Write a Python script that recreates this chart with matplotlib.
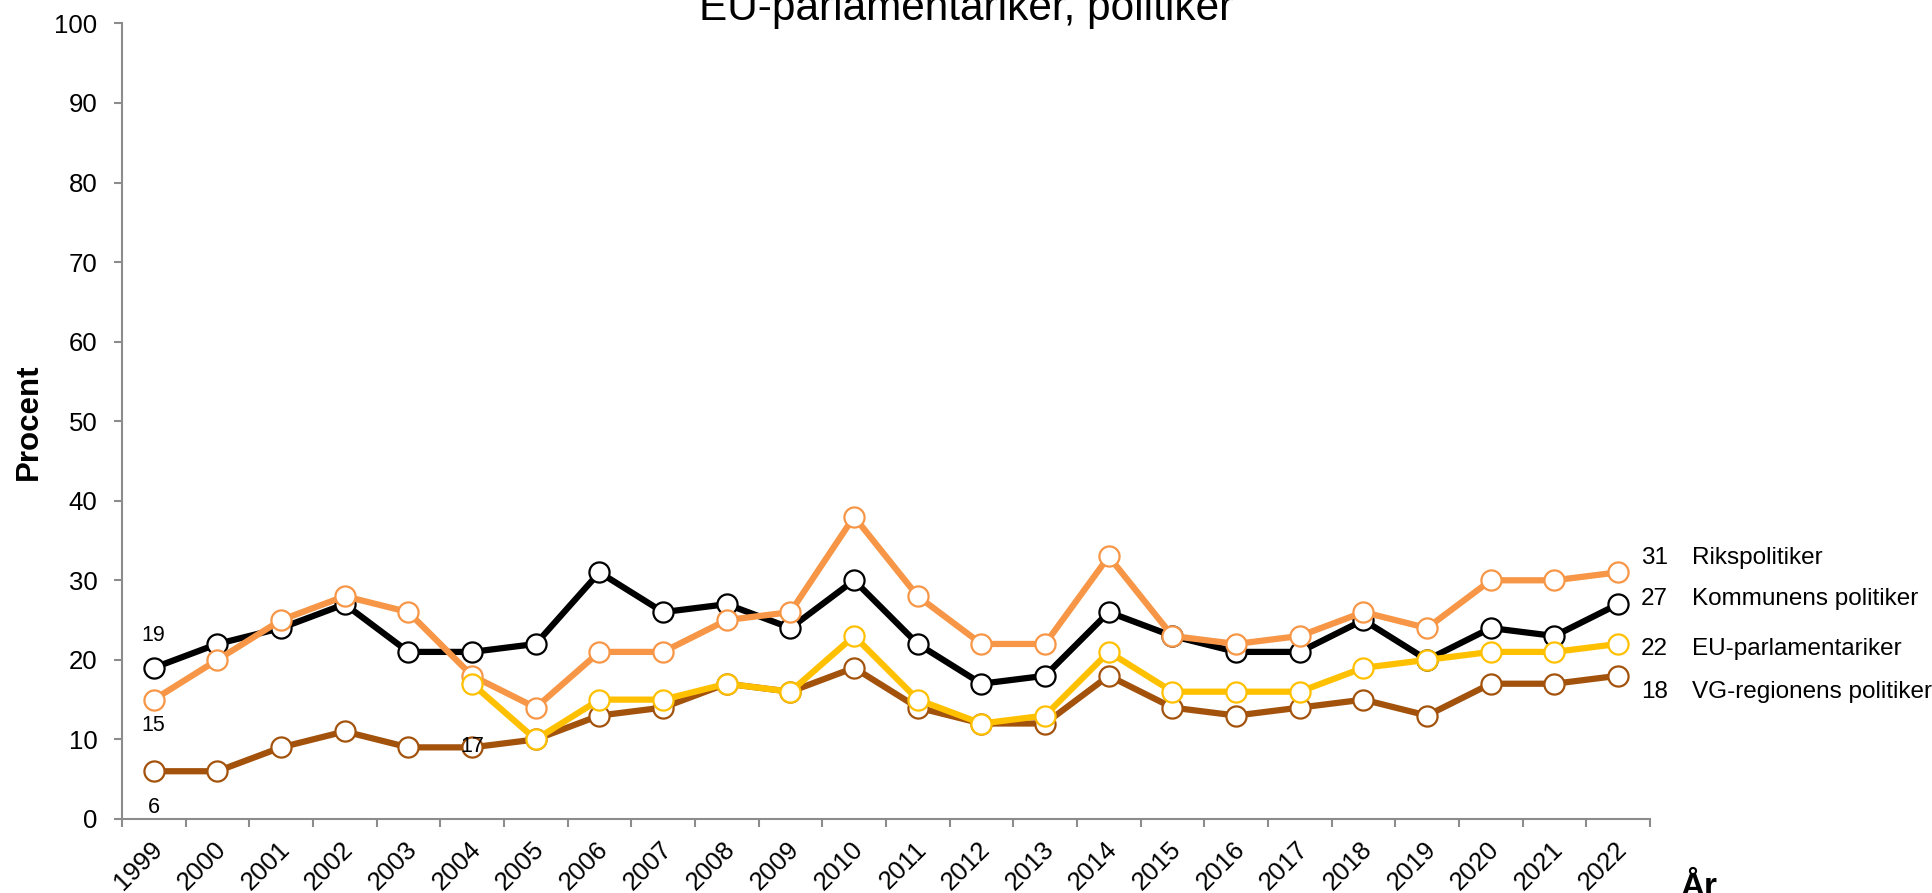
import matplotlib
matplotlib.use("Agg")
import matplotlib.pyplot as plt
import matplotlib.transforms as mtransforms
import numpy as np

plt.rcParams['font.family'] = ['Liberation Sans', 'DejaVu Sans']

years = list(range(1999, 2023))
kommunens = [19, 22, 24, 27, 21, 21, 22, 31, 26, 27, 24, 30, 22, 17, 18, 26, 23, 21, 21, 25, 20, 24, 23, 27]
riks = [15, 20, 25, 28, 26, 18, 14, 21, 21, 25, 26, 38, 28, 22, 22, 33, 23, 22, 23, 26, 24, 30, 30, 31]
eu_years = list(range(2004, 2023))
eu = [17, 10, 15, 15, 17, 16, 23, 15, 12, 13, 21, 16, 16, 16, 19, 20, 21, 21, 22]
vg = [6, 6, 9, 11, 9, 9, 10, 13, 14, 17, 16, 19, 14, 12, 12, 18, 14, 13, 14, 15, 13, 17, 17, 18]

series_names = ["Rikspolitiker", "Kommunens politiker", "EU-parlamentariker", "VG-regionens politiker"]
series_last = [31, 27, 22, 18]
label_y = [32.8, 27.6, 21.4, 15.9]

c_black = "#000000"
c_orange = "#F79646"
c_yellow = "#FFC000"
c_brown = "#A3520C"

fig = plt.figure(figsize=(19.32, 8.93), dpi=100)
ax = fig.add_axes([0.0631, 0.0829, 0.854 - 0.0631, 0.9738 - 0.0829])

x_all = np.arange(len(years))
x_eu = np.array([years.index(y) for y in eu_years])

lw = 4.5
ms = 14.5
mew = 1.6

def plot(x, y, c, z):
    ax.plot(x, y, color=c, lw=lw, marker='o', ms=ms, mfc='white', mec=c, mew=mew, zorder=z, clip_on=False)

plot(x_all, vg, c_brown, 2)
plot(x_all, kommunens, c_black, 3)
plot(x_all, riks, c_orange, 4)
plot(x_eu, eu, c_yellow, 5)

ax.set_xlim(-0.5, len(years) - 0.5)
ax.set_ylim(0, 100)
ax.set_yticks(np.arange(0, 101, 10))

ax.set_xticks(np.arange(-0.5, len(years), 1.0))
ax.set_xticklabels([])
ax.set_xticks(x_all, minor=True)
ax.set_xticklabels([str(y) for y in years], minor=True, rotation=45, ha='right', va='center',
                   rotation_mode='anchor', fontsize=18.5)
ax.tick_params(axis='x', which='minor', length=0, pad=19)
ax.tick_params(axis='x', which='major', length=6, width=1.5, color='#8C8C8C', direction='out')
ax.tick_params(axis='y', length=6, width=1.5, color='#8C8C8C', direction='out', labelsize=18.5, pad=11.5)
offset = mtransforms.ScaledTranslation(5 / 100, 0, fig.dpi_scale_trans)
for lab in ax.get_xticklabels(minor=True):
    lab.set_transform(lab.get_transform() + offset)

for s in ['top', 'right']:
    ax.spines[s].set_visible(False)
for s in ['left', 'bottom']:
    ax.spines[s].set_color('#8C8C8C')
    ax.spines[s].set_linewidth(1.5)

fig.text(29 / 1932, 1 - 421.5 / 893, "Procent", fontsize=22.5, fontweight='bold',
         rotation=90, ha='center', va='center')

fig.text(1680 / 1932, -3 / 893, "År", fontsize=24, fontweight='bold', ha='left', va='baseline')

fig.text(0.5, 1 - 20 / 893, "EU-parlamentariker, politiker", fontsize=30.5, ha='center', va='baseline')

# start labels
ax.text(0, 23.1, "19", fontsize=15.5, ha='center', va='center')
ax.text(0, 11.7, "15", fontsize=15.5, ha='center', va='center')
ax.text(0, 1.4, "6", fontsize=15.5, ha='center', va='center')
ax.text(5, 9.1, "17", fontsize=15.5, ha='center', va='center')

# right labels
trans = ax.get_yaxis_transform()
x_num = (1668 - 122) / (1650 - 122)
x_name = (1692 - 122) / (1650 - 122)
for name, v, yy in zip(series_names, series_last, label_y):
    ax.text(x_num, yy, str(v), fontsize=17.5, ha='right', va='center', transform=trans, clip_on=False)
    ax.text(x_name, yy, name, fontsize=17.5, ha='left', va='center', transform=trans, clip_on=False)

fig.savefig("out.png", dpi=100)
